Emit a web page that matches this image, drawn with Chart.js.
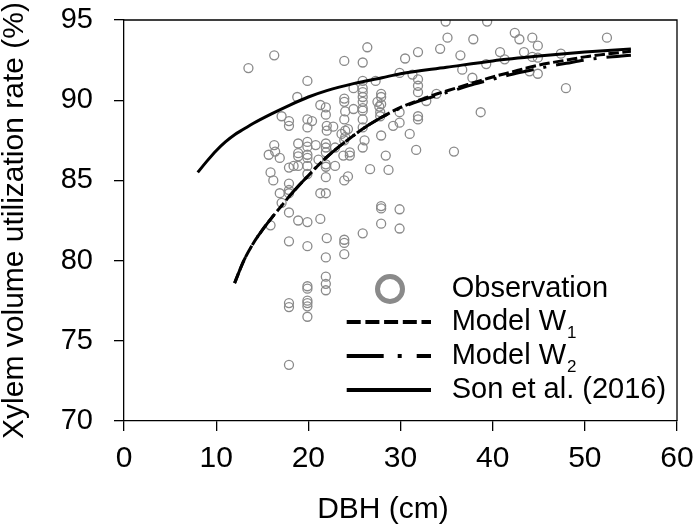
<!DOCTYPE html>
<html><head><meta charset="utf-8">
<script src="https://cdn.jsdelivr.net/npm/chart.js@4.4.1/dist/chart.umd.min.js"></script>
<style>html,body{margin:0;padding:0;background:#fff;}#wrap{width:696px;height:532px;}</style>
</head><body><div id="wrap"><canvas id="c" width="696" height="532"></canvas></div>
<script>
// Observations (DBH cm, xylem volume utilization rate %)
const obsDBH = [
 13.5,16.3,19.9,18.8,21.3,17.1,17.9,17.9,19.9,20.4,19.9,
 16.3,15.7,16.4,16.9,18.9,19.9,19.9,20.8,18.9,18.9,19.9,19.9,
 17.9,18.4,19.9,19.9,15.9,16.2,17.9,16.9,17.9,17.9,21.3,18.9,21.1,21.9,
 34.9,39.4,35.1,37.9,26.4,34.3,31.9,30.5,36.5,40.8,
 23.9,25.9,39.3,36.7,29.9,31.3,31.9,27.3,25.9,37.8,
 31.9,31.9,24.9,25.9,25.9,25.9,25.9,25.9,25.9,
 27.9,27.9,27.9,27.5,27.7,23.9,23.9,33.9,32.8,24.0,
 21.9,21.9,24.9,27.8,27.8,29.9,38.7,
 23.9,31.9,31.9,22.0,22.7,22.0,24.3,24.0,25.9,25.9,29.2,29.9,
 27.9,31.0,23.6,24.0,23.9,21.9,21.9,26.1,25.9,22.9,
 21.9,24.5,24.5,23.8,31.7,35.8,28.4,
 21.9,21.9,22.9,26.7,28.7,21.9,24.3,23.9,
 42.4,42.9,44.3,44.9,52.4,41.3,43.4,44.3,44.9,47.4,44.0,44.9,47.95,
 17.1,17.9,18.9,19.9,21.3,15.9,17.9,19.9,19.9,19.9,17.9,17.9,19.9,19.9,19.9,19.9,17.9,
 27.9,27.9,29.9,27.9,29.9,25.9,22.0,23.9,23.9,21.9,23.9,21.9,21.9,21.9
];
const obsRate = [
 92.0,92.8,91.2,90.2,89.7,89.0,88.7,88.4,88.8,88.7,88.3,
 87.2,86.6,86.8,86.4,87.3,87.4,87.1,87.2,86.7,86.5,86.6,86.4,
 85.8,85.9,85.9,85.4,85.5,85.0,84.8,84.2,84.2,84.4,84.2,85.9,86.3,84.2,
 94.9,94.9,93.9,93.8,93.3,93.2,93.0,92.6,92.8,93.0,
 92.45,92.35,92.25,91.9,91.7,91.6,91.3,91.2,91.2,91.4,
 90.9,90.5,90.75,90.75,90.5,90.2,89.9,89.5,89.35,
 90.4,90.2,89.75,89.9,89.6,90.1,89.9,90.4,89.95,89.3,
 89.55,89.1,89.45,89.25,89.0,89.25,89.25,
 88.8,89.0,88.8,88.4,88.35,88.1,88.2,88.1,88.8,88.3,88.4,88.6,
 87.8,87.9,87.9,87.7,87.5,87.3,87.05,87.5,87.05,87.05,
 86.75,86.75,86.55,86.55,86.9,86.8,86.55,
 86.0,85.85,85.9,85.7,85.65,85.2,85.25,85.0,
 94.2,93.8,93.9,93.4,93.9,92.55,93.0,92.7,92.65,92.9,91.8,91.65,90.75,
 83.6,83.0,82.5,82.4,82.6,82.2,81.2,80.9,78.4,78.25,77.35,77.1,77.5,77.35,77.15,76.5,73.5,
 83.4,83.25,83.2,82.3,82.0,81.7,81.4,81.3,81.1,80.2,80.4,79.0,78.55,78.15
];
// Model curves
const modelDBH = [12,13,14,15,16,17,18,19,20,21,22,23,24,26,28,30,32,34,36,38,40,42,44,46,48,50,52,55];
const w1Rate = [78.6,80.0,81.05,81.9,82.65,83.35,84.05,84.7,85.3,85.9,86.45,86.95,87.4,88.25,88.95,89.55,90.0,90.4,90.75,91.1,91.45,91.75,92.05,92.3,92.5,92.7,92.85,93.05];
const w2Rate = [78.6,80.0,81.05,81.9,82.65,83.35,84.05,84.7,85.3,85.9,86.45,86.95,87.4,88.25,88.95,89.5,89.95,90.3,90.65,91.0,91.3,91.6,91.85,92.1,92.3,92.5,92.65,92.8];
const sonDBH = [8,9,10,11,12,13,14,16,18,20,22,25,28,30,35,40,45,50,55];
const sonRate = [85.5,86.2,86.85,87.4,87.85,88.2,88.55,89.15,89.7,90.2,90.6,91.05,91.4,91.65,92.05,92.45,92.75,93.0,93.2];
const xTicks = [0,10,20,30,40,50,60];
const yTicks = [70,75,80,85,90,95];
const xTitle = 'DBH (cm)';
const yTitle = 'Xylem volume utilization rate (%)';
const legendLabels = ['Observation','Model W','Model W','Son et al. (2016)'];
const legendSubs = ['','1','2',''];

const FONT = '"Liberation Sans", Arial, sans-serif';
const pts = (xs, ys) => xs.map((x, i) => ({x, y: ys[i]}));

const frame = {
  id: 'frame',
  afterDatasetsDraw(chart) {
    const {ctx, chartArea: a} = chart;
    ctx.save();
    ctx.strokeStyle = '#000'; ctx.lineWidth = 1.3;
    ctx.beginPath();
    ctx.moveTo(a.left, a.top); ctx.lineTo(a.right, a.top); ctx.lineTo(a.right, a.bottom);
    ctx.stroke();
    ctx.restore();
  },
  afterDraw(chart) {
    const ctx = chart.ctx;
    ctx.save();
    // x axis title (placed as in the original figure)
    ctx.fillStyle = '#000'; ctx.textAlign = 'center'; ctx.textBaseline = 'middle';
    ctx.font = '30px ' + FONT;
    ctx.fillText(xTitle, 383, 510);
    // legend
    const rows = [289, 322, 356, 390];
    const x0 = 346.7, x1 = 431, tx = 451.7;
    ctx.strokeStyle = '#8a8a8a'; ctx.lineWidth = 5;
    ctx.beginPath(); ctx.arc(390, rows[0], 12.5, 0, Math.PI*2); ctx.stroke();
    ctx.strokeStyle = '#000'; ctx.lineWidth = 4; ctx.lineCap = 'butt';
    const dashes = [[], [14, 4.7], [37, 14, 4, 15, 40], []];
    for (let i = 1; i < 4; i++) {
      ctx.setLineDash(dashes[i]);
      ctx.beginPath(); ctx.moveTo(x0, rows[i]); ctx.lineTo(x1, rows[i]); ctx.stroke();
    }
    ctx.setLineDash([]);
    ctx.textBaseline = 'middle'; ctx.textAlign = 'left';
    for (let i = 0; i < 4; i++) {
      ctx.font = '29px ' + FONT;
      ctx.fillText(legendLabels[i], tx, rows[i]);
      if (legendSubs[i]) {
        const w = ctx.measureText(legendLabels[i]).width;
        ctx.font = '17px ' + FONT;
        ctx.fillText(legendSubs[i], tx + w + 1, rows[i] + 11);
      }
    }
    ctx.restore();
  }
};

new Chart(document.getElementById('c'), {
  type: 'scatter',
  data: {
    datasets: [
      {label: 'Observation', data: pts(obsDBH, obsRate), showLine: false, order: 4,
       pointStyle: 'circle', pointRadius: 4.5, pointBorderWidth: 1.3,
       pointBorderColor: '#8a8a8a', pointBackgroundColor: 'rgba(0,0,0,0)'},
      {label: 'Model W1', data: pts(modelDBH, w1Rate), showLine: true, order: 2,
       pointRadius: 0, borderColor: '#000', borderWidth: 3, borderDash: [10.5, 3.5],
       cubicInterpolationMode: 'monotone'},
      {label: 'Model W2', data: pts(modelDBH, w2Rate), showLine: true, order: 3,
       pointRadius: 0, borderColor: '#000', borderWidth: 3, borderDash: [28, 10, 3, 10],
       cubicInterpolationMode: 'monotone'},
      {label: 'Son et al. (2016)', data: pts(sonDBH, sonRate), showLine: true, order: 1,
       pointRadius: 0, borderColor: '#000', borderWidth: 3,
       cubicInterpolationMode: 'monotone'}
    ]
  },
  options: {
    responsive: false, animation: false, devicePixelRatio: 1,
    layout: {padding: {top: 20, right: 19, left: 0, bottom: 0}},
    plugins: {legend: {display: false}, tooltip: {enabled: false}},
    scales: {
      x: {
        type: 'linear', min: 0, max: 60,
        afterBuildTicks(s) { s.ticks = xTicks.map(v => ({value: v})); },
        afterFit(s) { s.height = 111; s.paddingLeft = 0; s.paddingRight = 0; },
        ticks: {color: '#000', padding: 13, maxRotation: 0, font: {family: FONT, size: 30, lineHeight: 1}},
        grid: {drawOnChartArea: false, drawTicks: true, tickLength: 10, color: '#000', lineWidth: 1.3},
        border: {display: true, color: '#000', width: 1.3},
        title: {display: false}
      },
      y: {
        type: 'linear', min: 70, max: 95,
        afterBuildTicks(s) { s.ticks = yTicks.map(v => ({value: v})); },
        afterFit(s) { s.width = 124; s.paddingTop = 0; s.paddingBottom = 0; },
        ticks: {color: '#000', padding: 21, font: {family: FONT, size: 29, lineHeight: 1}},
        grid: {drawOnChartArea: false, drawTicks: true, tickLength: 10, color: '#000', lineWidth: 1.3},
        border: {display: true, color: '#000', width: 1.3},
        title: {display: true, text: yTitle, color: '#000', padding: {top: 0, bottom: 0},
                font: {family: FONT, size: 30, lineHeight: 1}}
      }
    }
  },
  plugins: [frame]
});
</script></body></html>
